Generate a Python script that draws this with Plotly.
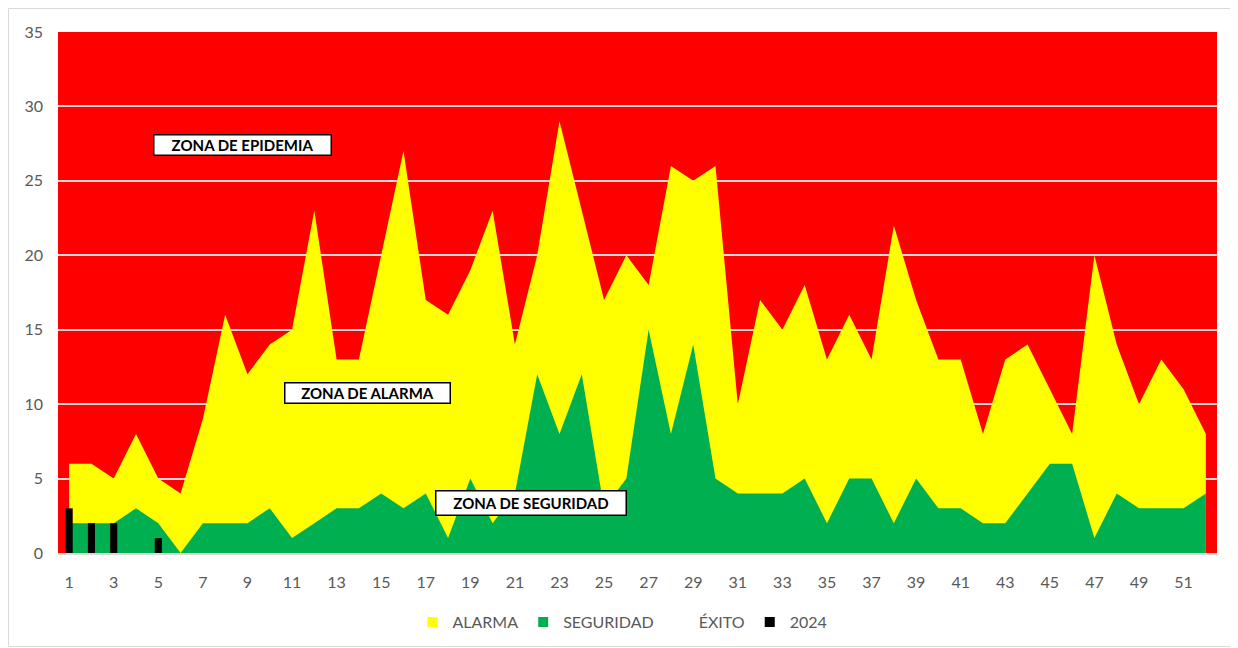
import plotly.graph_objects as go

# ---------------- data ----------------
weeks = list(range(1, 53))

alarma = [6, 6, 5, 8, 5, 4, 9, 16, 12, 14,
          15, 23, 13, 13, 20, 27, 17, 16, 19, 23,
          14, 20, 29, 23, 17, 20, 18, 26, 25, 26,
          10, 17, 15, 18, 13, 16, 13, 22, 17, 13,
          13, 8, 13, 14, 11, 8, 20, 14, 10, 13,
          11, 8]

seguridad = [2, 2, 2, 3, 2, 0, 2, 2, 2, 3,
             1, 2, 3, 3, 4, 3, 4, 1, 5, 2,
             4, 12, 8, 12, 3, 5, 15, 8, 14, 5,
             4, 4, 4, 5, 2, 5, 5, 2, 5, 3,
             3, 2, 2, 4, 6, 6, 1, 4, 3, 3,
             3, 4]

weeks_2024 = [1, 2, 3, 5]
cases_2024 = [3, 2, 2, 1]

tick_vals = [1, 3, 5, 7, 9, 11, 13, 15, 17, 19, 21, 23, 25,
             27, 29, 31, 33, 35, 37, 39, 41, 43, 45, 47, 49, 51]
tick_text = ["1", "3", "5", "7", "9", "11", "13", "15", "17", "19", "21", "23", "25",
             "27", "29", "31", "33", "35", "37", "39", "41", "43", "45", "47", "49", "51"]

legend_names = ["ALARMA", "SEGURIDAD", "ÉXITO", "2024"]
legend_colors = ["#FFFF00", "#00B050", "#FFFFFF", "#000000"]

RED = "#FF0000"
YELLOW = "#FFFF00"
GREEN = "#00B050"
GRID = "#D9D9D9"
TXT = "#595959"
FONT = "Lato"

# figure geometry (page body adds an 8px offset)
W, H = 1230, 640
ML, MR, MT, MB = 50, 21, 24, 95
PW, PH = W - ML - MR, H - MT - MB

fig = go.Figure()

fig.add_trace(go.Scatter(
    x=weeks, y=alarma, mode="lines", fill="tozeroy",
    line=dict(width=0, color=YELLOW), fillcolor=YELLOW,
    name="ALARMA", showlegend=False, hoverinfo="x+y"))

fig.add_trace(go.Scatter(
    x=weeks, y=seguridad, mode="lines", fill="tozeroy",
    line=dict(width=0, color=GREEN), fillcolor=GREEN,
    name="SEGURIDAD", showlegend=False, hoverinfo="x+y"))

fig.add_trace(go.Bar(
    x=weeks_2024, y=cases_2024, width=0.32, marker=dict(color="#000000", line=dict(width=0)),
    name="2024", showlegend=False, xaxis="x", yaxis="y2"))

# legend entries (square swatches)
for nm, col in zip(legend_names, legend_colors):
    fig.add_trace(go.Scatter(
        x=[None], y=[None], mode="markers", name=nm,
        marker=dict(symbol="square", size=10, color=col, line=dict(width=0))))

ann_style = dict(showarrow=False, bgcolor="white", bordercolor="black", borderwidth=1.5,
                 borderpad=2, font=dict(family=FONT, size=15, color="black"),
                 xref="x", yref="y")

fig.update_layout(
    width=W, height=H,
    margin=dict(l=ML, r=MR, t=MT, b=MB, autoexpand=False),
    paper_bgcolor="white", plot_bgcolor=RED,
    font=dict(family=FONT, size=16, color=TXT),
    xaxis=dict(range=[0.5, 52.5], tickmode="array", tickvals=tick_vals, ticktext=tick_text,
               showgrid=False, zeroline=False, showline=True, linecolor=GRID, linewidth=1.5,
               tickfont=dict(family=FONT, size=16, color=TXT), ticklabelstandoff=14,
               fixedrange=True, automargin=False),
    yaxis=dict(range=[0, 35], dtick=5, showgrid=True, gridcolor=GRID, gridwidth=1.5,
               zeroline=False, showline=False,
               tickfont=dict(family=FONT, size=16, color=TXT), ticklabelstandoff=14,
               fixedrange=True, automargin=False),
    yaxis2=dict(range=[0, 35], overlaying="y", visible=False, fixedrange=True),
    legend=dict(orientation="h", x=0.487, xanchor="center",
                yref="container", y=(H - 614) / H, yanchor="middle",
                font=dict(family=FONT, size=16, color=TXT), itemwidth=30,
                bgcolor="rgba(0,0,0,0)", traceorder="normal"),
    annotations=[
        dict(text="<b>ZONA DE EPIDEMIA</b>", x=8.8, y=27.4, width=172, height=15, **ann_style),
        dict(text="<b>ZONA DE ALARMA</b>", x=14.4, y=10.75, width=160, height=15, **ann_style),
        dict(text="<b>ZONA DE SEGURIDAD</b>", x=21.7, y=3.35, width=185, height=19, **ann_style),
    ],
    shapes=[dict(type="rect", xref="paper", yref="paper",
                 x0=(0.5 - ML) / PW, x1=(1228.5 - ML) / PW,
                 y0=(MT + PH - 638.5) / PH, y1=(MT + PH - 0.5) / PH,
                 line=dict(color=GRID, width=1), fillcolor="rgba(0,0,0,0)", layer="below")],
    bargap=0.7,
)

fig.write_html("out.html")
